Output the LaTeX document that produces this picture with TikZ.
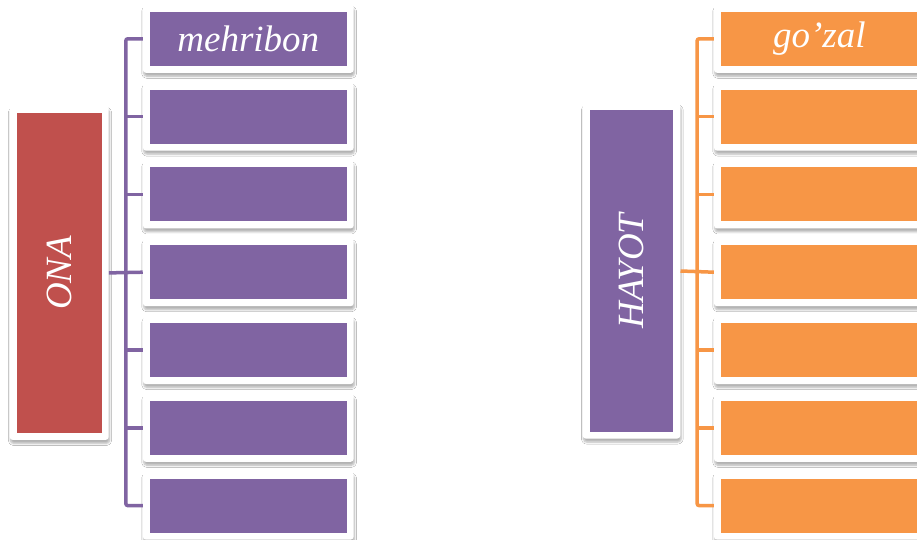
\documentclass[tikz,border=0pt]{standalone}
\usepackage{fontspec}
\setmainfont{Liberation Serif}
\usetikzlibrary{calc,shadows.blur}
\definecolor{opurple}{HTML}{8064A2}
\definecolor{ored}{HTML}{C0504D}
\definecolor{oorange}{HTML}{F79646}
\tikzset{
  framebox/.style={rectangle, fill=white, rounded corners=3pt, inner sep=0pt,
    blur shadow={shadow xshift=0.8pt, shadow yshift=-3.5pt, shadow blur radius=2pt, shadow opacity=30, shadow blur steps=6},
    path picture={\fill[#1, sharp corners] ([shift={(7pt,7pt)}]path picture bounding box.south west) rectangle ([shift={(-7pt,-7pt)}]path picture bounding box.north east);},
    text=white, font=\fontsize{37}{44}\selectfont\itshape},
  leaf/.style={framebox=#1, minimum width=210.7pt, minimum height=68pt},
  conn/.style={draw=#1, line width=3.5pt, rounded corners=2pt},
}
\begin{document}
\begin{tikzpicture}[x=1pt,y=-1pt]
\clip (0,0) rectangle (917,540);
\fill[white] (0,0) rectangle (917,540);
% left group
\node[framebox=ored, minimum width=99pt, minimum height=334pt] (ona) at (59.2,272.9) {\rotatebox{90}{ONA}};
\foreach \i/\t in {1/mehribon,2/,3/,4/,5/,6/,7/} {
  \node[leaf=opurple] (l\i) at (248.3,{38.8+77.8*(\i-1)}) {\t};
}
\coordinate (lbus) at ($(ona.east)!.5!(l4.west)$);
\draw[conn=opurple] (l1.west) -| (lbus) |- (l7.west);
\draw[conn=opurple] (ona.east) -- (l4.west);
\foreach \i in {2,3,5,6} { \draw[conn=opurple] (l\i.west) -- (l\i.west -| lbus); }
% right group
\node[framebox=opurple, minimum width=97.6pt, minimum height=335pt] (hay) at (631.5,271) {\rotatebox{90}{HAYOT}};
\foreach \i/\t in {1/go’zal,2/,3/,4/,5/,6/,7/} {
  \node[leaf=oorange] (r\i) at (819.35,{38.8+77.8*(\i-1)}) {\t};
}
\coordinate (rbus) at ($(hay.east)!.5!(r4.west)$);
\draw[conn=oorange] (r1.west) -| (rbus) |- (r7.west);
\draw[conn=oorange] (hay.east) -- (r4.west);
\foreach \i in {2,3,5,6} { \draw[conn=oorange] (r\i.west) -- (r\i.west -| rbus); }
\end{tikzpicture}
\end{document}
